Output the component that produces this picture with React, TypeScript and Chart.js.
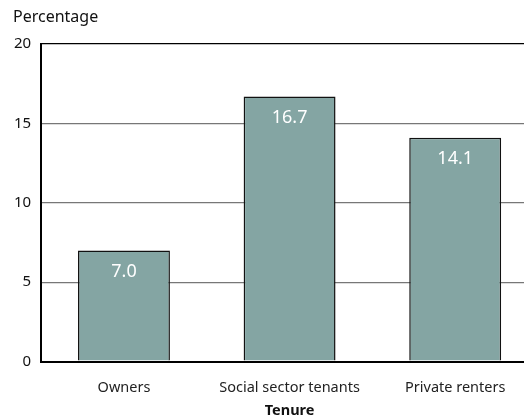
import React, { useEffect, useRef } from "react";
import { Chart, registerables } from "chart.js";
Chart.register(...registerables);

const categories = ["Owners", "Social sector tenants", "Private renters"];
const values = [7.0, 16.7, 14.1];
const yTicks = [0, 5, 10, 15, 20];
const xTitle = "Tenure";
const yTitle = "Percentage";

const FONT = "'Noto Sans', 'Open Sans', sans-serif";

const labelPlugin = {
  id: "barLabels",
  afterDatasetsDraw(chart: any) {
    const ctx = chart.ctx;
    const meta = chart.getDatasetMeta(0);
    const area = chart.chartArea;
    ctx.save();
    ctx.fillStyle = "#ffffff";
    ctx.font = `18px ${FONT}`;
    ctx.textAlign = "center";
    ctx.textBaseline = "middle";
    meta.data.forEach((bar: any, i: number) => {
      ctx.fillText(values[i].toFixed(1), bar.x, bar.y + 21);
    });
    ctx.fillStyle = "#111";
    ctx.font = `bold 14.5px ${FONT}`;
    ctx.fillText(xTitle, (area.left + area.right) / 2, area.bottom + 49);
    ctx.font = `16px ${FONT}`;
    ctx.textAlign = "left";
    ctx.fillText(yTitle, 13, area.top - 27);
    ctx.restore();
  },
};

export default function App() {
  const ref = useRef<HTMLCanvasElement>(null);
  useEffect(() => {
    document.body.style.margin = "0";
    document.body.style.overflow = "hidden";
    const chart = new Chart(ref.current!, {
      type: "bar",
      data: {
        labels: categories,
        datasets: [
          {
            data: values,
            backgroundColor: "#84a5a3",
            borderColor: "#111111",
            borderWidth: 1.5,
            categoryPercentage: 1,
            barPercentage: 0.555,
          },
        ],
      },
      options: {
        responsive: false,
        animation: false,
        layout: { padding: { left: 4, right: 2, top: 44, bottom: 5 } },
        plugins: {
          legend: { display: false },
          tooltip: { enabled: false },
          title: { display: false },
        },
        scales: {
          y: {
            min: 0,
            max: 20,
            afterBuildTicks: (axis: any) => {
              axis.ticks = yTicks.map((v) => ({ value: v }));
            },
            grid: {
              drawTicks: false,
              color: (c: any) => (c.tick && (c.tick.value === 20 || c.tick.value === 0) ? "#000" : "#777"),
              lineWidth: (c: any) => (c.tick && c.tick.value === 0 ? 2 : 1.2),
            },
            border: { color: "#000", width: 2 },
            ticks: {
              color: "#111",
              padding: 10,
              font: { family: FONT, size: 15 },
            },
          },
          x: {
            grid: { display: false, drawTicks: false },
            border: { color: "#000", width: 2 },
            ticks: {
              color: "#222",
              padding: 18,
              font: { family: FONT, size: 14.5 },
            },
          },
        },
      },
      plugins: [labelPlugin],
    });
    return () => chart.destroy();
  }, []);
  return (
    <div style={{ position: "absolute", left: 0, top: 0, width: 524, height: 420, overflow: "hidden" }}>
      <canvas ref={ref} width={540} height={420} style={{ display: "block" }} />
    </div>
  );
}
